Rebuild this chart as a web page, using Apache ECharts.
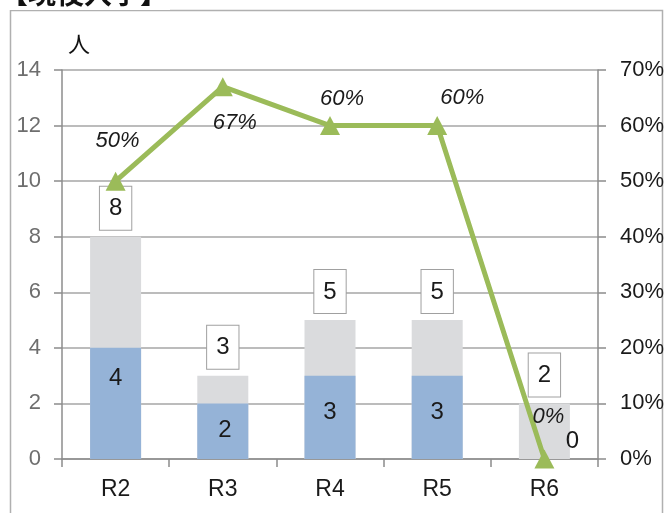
<!DOCTYPE html>
<html>
<head>
<meta charset="utf-8">
<script src="https://cdn.jsdelivr.net/npm/echarts@6/dist/echarts.min.js"></script>
<style>
html,body{margin:0;padding:0;background:#fff;}
#main{width:665px;height:513px;}
</style>
</head>
<body>
<div id="main"></div>
<script>
var categories = ['R2', 'R3', 'R4', 'R5', 'R6'];
var totals = [8, 3, 5, 5, 2];
var enrolled = [4, 2, 3, 3, 0];
var ratioPct = [50, 67, 60, 60, 0];
var leftTicks = [0, 14, 2];
var rightTicks = [0, 70, 10];

var NARROW = "'Liberation Sans Narrow', 'Arial Narrow', sans-serif";
var WIDE = "'Liberation Sans', Arial, sans-serif";
var ratioOffsets = [[2, -40], [12, 36], [12, -27], [25, -28], [4, -42]];
var enrolledOffsets = [[0, -25], [2, -1], [0, -5], [0, -5], [28, -18]];

var chart = echarts.init(document.getElementById('main'), null, {renderer: 'canvas'});
chart.setOption({
  animation: false,
  backgroundColor: '#fff',
  textStyle: {fontFamily: NARROW},
  graphic: [
    {type: 'rect', shape: {x: 10.5, y: 10.5, width: 652, height: 520}, style: {fill: 'none', stroke: '#b0b0b0', lineWidth: 1.5}, z: 0},
    {type: 'rect', shape: {x: 0, y: 0, width: 170, height: 10}, style: {fill: '#fff'}, z: 1},
    {type: 'text', left: 0, top: -21, style: {text: '【現役入学】', font: "bold 28px 'Noto Sans CJK JP'", fill: '#111'}, z: 2},
    {type: 'text', left: 68, top: 33, style: {text: '人', font: "22px 'Noto Sans CJK JP'", fill: '#111'}, z: 2}
  ],
  grid: {left: 62, right: 67, top: 70, bottom: 54, containLabel: false, outerBoundsMode: 'none'},
  xAxis: {
    type: 'category',
    data: categories,
    axisLine: {lineStyle: {color: '#8c8c8c', width: 1.5}},
    axisTick: {show: true, length: 8, lineStyle: {color: '#8c8c8c', width: 1.5}},
    axisLabel: {color: '#1a1a1a', fontSize: 23, margin: 19, fontFamily: NARROW}
  },
  yAxis: [
    {
      type: 'value', min: leftTicks[0], max: leftTicks[1], interval: leftTicks[2],
      axisLine: {show: true, lineStyle: {color: '#8c8c8c', width: 1.5}},
      axisTick: {show: true, length: 8, lineStyle: {color: '#8c8c8c', width: 1.5}},
      axisLabel: {color: '#6e6e6e', fontSize: 22, margin: 21, fontFamily: WIDE},
      splitLine: {lineStyle: {color: '#a6a6a6', width: 1.5}}
    },
    {
      type: 'value', min: rightTicks[0], max: rightTicks[1], interval: rightTicks[2],
      position: 'right',
      axisLine: {show: true, lineStyle: {color: '#8c8c8c', width: 1.5}},
      axisTick: {show: true, length: 8, lineStyle: {color: '#8c8c8c', width: 1.5}},
      axisLabel: {color: '#1a1a1a', fontSize: 22, margin: 22, fontFamily: NARROW, formatter: '{value}%'},
      splitLine: {show: false}
    }
  ],
  series: [
    {
      name: 'total', type: 'bar', data: totals, barWidth: 51, barGap: '-100%',
      itemStyle: {color: '#dadbdd'},
      label: {
        show: true, position: 'top', distance: 7,
        color: '#1a1a1a', fontSize: 24, fontFamily: NARROW,
        backgroundColor: '#fff', borderColor: '#a0a0a0', borderWidth: 1,
        padding: [9, 9, 8, 9], lineHeight: 26
      },
      z: 2
    },
    {
      name: 'enrolled', type: 'bar', barWidth: 51, barGap: '-100%',
      data: enrolled.map(function (v, i) {
        return {value: v, label: {offset: enrolledOffsets[i]}};
      }),
      itemStyle: {color: '#95b3d7'},
      label: {show: true, position: 'inside', color: '#1a1a1a', fontSize: 24, fontFamily: NARROW},
      z: 3
    },
    {
      name: 'ratio', type: 'line', yAxisIndex: 1,
      data: ratioPct.map(function (v, i) {
        return {value: v, label: {offset: ratioOffsets[i]}};
      }),
      symbol: 'triangle', symbolSize: [20, 19],
      lineStyle: {color: '#9bbb59', width: 5},
      itemStyle: {color: '#9bbb59'},
      label: {
        show: true, position: 'inside', formatter: '{c}%',
        color: '#1a1a1a', fontSize: 22, fontStyle: 'italic', fontFamily: NARROW
      },
      z: 5
    }
  ]
});
</script>
</body>
</html>
